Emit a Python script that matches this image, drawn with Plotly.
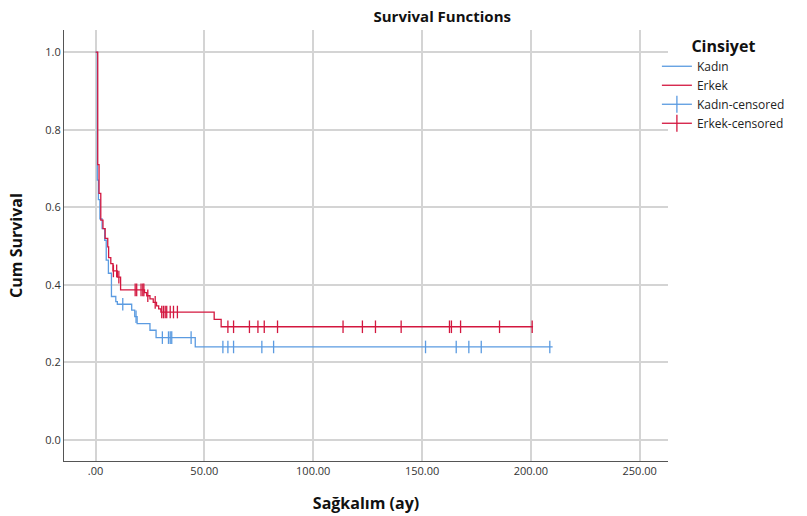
import numpy as np
import plotly.graph_objects as go

# Kaplan-Meier step data (time in months, cumulative survival)
kadin_t = [0, 0.8, 1.3, 2.0, 3.0, 4.2, 4.9, 5.9, 7.3, 9.3, 10.0, 16.6, 18.0, 19.1, 25.0, 27.8, 45.8, 210.0]
kadin_s = [1.0, 0.67, 0.62, 0.57, 0.545, 0.515, 0.464, 0.43, 0.37, 0.357, 0.35, 0.335, 0.318, 0.30, 0.283, 0.264, 0.24, 0.24]

erkek_t = [0, 1.0, 1.6, 2.4, 3.4, 4.4, 5.6, 6.0, 7.0, 8.0, 10.0, 11.5, 22.5, 23.5, 25.0, 26.5, 28.0, 29.0, 30.0, 54.5, 57.7, 201.0]
erkek_s = [1.0, 0.71, 0.636, 0.567, 0.545, 0.52, 0.498, 0.47, 0.455, 0.436, 0.42, 0.387, 0.38, 0.372, 0.364, 0.355, 0.346, 0.338, 0.33, 0.311, 0.292, 0.292]

# censored observation times
kadin_c = [12.5, 18.6, 30.7, 33.5, 34.3, 35.0, 43.9, 58.5, 60.8, 63.4, 76.4, 81.8, 151.6, 165.7, 171.5, 177.2, 208.7]
erkek_c = [8.2, 9.7, 10.7, 18.2, 18.9, 20.9, 21.7, 22.2, 24.0, 27.4, 30.4, 31.2, 32.0, 32.7, 34.3, 35.8, 37.6,
           60.8, 63.4, 70.7, 74.6, 77.5, 83.6, 113.7, 122.6, 128.6, 140.4, 162.6, 163.5, 167.7, 185.6, 200.6]

x_ticks = [0, 50, 100, 150, 200, 250]
x_tick_text = [".00", "50.00", "100.00", "150.00", "200.00", "250.00"]
y_ticks = [0.0, 0.2, 0.4, 0.6, 0.8, 1.0]

BLUE = "#5B9BE1"
RED = "#D3173F"
FONT = "Open Sans"


def level(ts, ss, c):
    idx = np.searchsorted(np.array(ts), np.array(c), side="right") - 1
    return list(np.array(ss)[idx])


fig = go.Figure()
fig.add_trace(go.Scatter(x=kadin_t, y=kadin_s, mode="lines", line=dict(shape="hv", color=BLUE, width=1.3),
                         name="Kadın"))
fig.add_trace(go.Scatter(x=erkek_t, y=erkek_s, mode="lines", line=dict(shape="hv", color=RED, width=1.3),
                         name="Erkek"))
fig.add_trace(go.Scatter(x=kadin_c, y=level(kadin_t, kadin_s, kadin_c), mode="markers",
                         marker=dict(symbol="line-ns", size=9, line=dict(color=BLUE, width=1.3)),
                         showlegend=False))
fig.add_trace(go.Scatter(x=erkek_c, y=level(erkek_t, erkek_s, erkek_c), mode="markers",
                         marker=dict(symbol="line-ns", size=9, line=dict(color=RED, width=1.3)),
                         showlegend=False))
# legend entries for censored marks
fig.add_trace(go.Scatter(x=[None], y=[None], mode="lines+markers", name="Kadın-censored",
                         line=dict(color=BLUE, width=1.3),
                         marker=dict(symbol="line-ns", size=12, line=dict(color=BLUE, width=1.3))))
fig.add_trace(go.Scatter(x=[None], y=[None], mode="lines+markers", name="Erkek-censored",
                         line=dict(color=RED, width=1.3),
                         marker=dict(symbol="line-ns", size=12, line=dict(color=RED, width=1.3))))

fig.update_layout(
    width=807, height=516,
    margin=dict(l=64, r=139, t=30, b=55, autoexpand=False),
    plot_bgcolor="white", paper_bgcolor="white",
    font=dict(family=FONT, size=11, color="#333333"),
    title=dict(text="<b>Survival Functions</b>", x=0.548, xanchor="center", y=0.968, yanchor="middle",
               font=dict(size=15, color="#111111")),
    legend=dict(xref="container", yref="container", x=0.814, xanchor="left", y=0.94, yanchor="top",
                title=dict(text="<b>Cinsiyet</b>", side="top center", font=dict(size=16, color="#111111")),
                font=dict(size=12, color="#222222"), itemwidth=30, tracegroupgap=0,
                bgcolor="rgba(0,0,0,0)"),
    showlegend=True,
)
fig.update_xaxes(range=[-14.5, 263], tickvals=x_ticks, ticktext=x_tick_text, showgrid=True,
                 gridcolor="#D4D4D4", gridwidth=1.5, zeroline=False, showline=True, linecolor="#555555",
                 linewidth=1, ticks="", title=dict(text="<b>Sağkalım (ay)</b>", font=dict(size=16, color="#111111"),
                                                   standoff=20))
fig.update_yaxes(range=[-0.054, 1.057], tickvals=y_ticks, tickformat=".1f", showgrid=True,
                 gridcolor="#D4D4D4", gridwidth=1.5, zeroline=False, showline=True, linecolor="#555555",
                 linewidth=1, ticks="", title=dict(text="<b>Cum Survival</b>", font=dict(size=16, color="#111111"),
                                                   standoff=18))

fig.write_html("out.html")
